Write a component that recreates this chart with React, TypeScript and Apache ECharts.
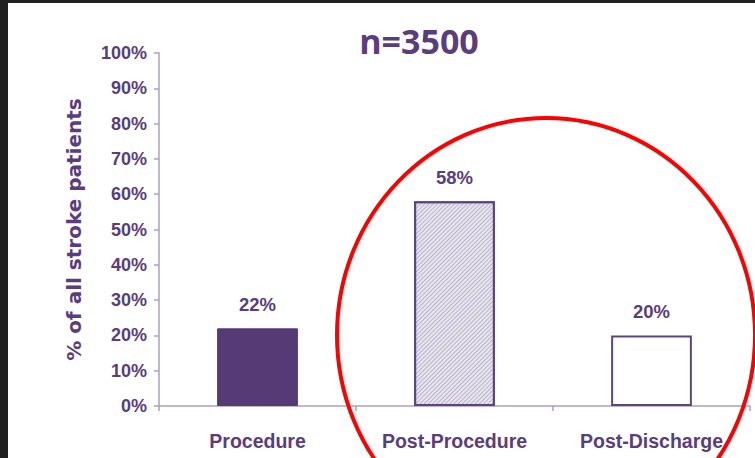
import React, { useEffect, useRef } from "react";
import * as echarts from "echarts";

const categories = ["Procedure", "Post-Procedure", "Post-Discharge"];
const values = [22, 58, 20];
const yTicks = [0, 10, 20, 30, 40, 50, 60, 70, 80, 90, 100];
const titleText = "n=3500";
const yAxisName = "% of all stroke patients";

const PURPLE = "#5a3d7e";
const AXIS = "#ab9fc6";
const SANS = '"Liberation Sans", Arial, sans-serif';

export default function App() {
  const ref = useRef<HTMLDivElement>(null);
  useEffect(() => {
    if (!ref.current) return;
    const chart = echarts.init(ref.current, null, { renderer: "svg" });
    const itemStyles = [
      { color: "#563a75", borderColor: "#563a75", borderWidth: 1 },
      {
        color: "#e8e6ee",
        borderColor: "#5a4782",
        borderWidth: 2,
        decal: {
          symbol: "rect",
          symbolSize: 1,
          color: "rgba(140,128,165,0.5)",
          dashArrayX: [[1, 0]],
          dashArrayY: [1, 2],
          rotation: -Math.PI / 4,
        },
      },
      { color: "#ffffff", borderColor: "#5a4782", borderWidth: 2 },
    ];
    chart.setOption({
      animation: false,
      backgroundColor: "#ffffff",
      title: {
        text: titleText,
        left: 414,
        textAlign: "center",
        top: 19,
        textStyle: {
          fontFamily: '"Open Sans", sans-serif',
          fontWeight: "bold",
          fontSize: 34,
          color: PURPLE,
        },
      },
      grid: { left: 159, right: 5, top: 53, bottom: 52 },
      xAxis: {
        type: "category",
        data: categories,
        axisLine: { lineStyle: { color: AXIS, width: 1.5 } },
        axisTick: { show: true, length: 5, lineStyle: { color: AXIS, width: 1.5 } },
        axisLabel: {
          interval: 0,
          margin: 25,
          color: PURPLE,
          fontFamily: SANS,
          fontWeight: "bold",
          fontSize: 19.5,
        },
      },
      yAxis: {
        type: "value",
        min: 0,
        max: 100,
        interval: 10,
        name: yAxisName,
        nameLocation: "middle",
        nameGap: 75,
        nameTextStyle: {
          color: PURPLE,
          fontFamily: '"DejaVu Sans", sans-serif',
          fontWeight: "bold",
          fontSize: 20,
        },
        axisLine: { show: true, lineStyle: { color: AXIS, width: 1.5 } },
        axisTick: { show: true, length: 5, lineStyle: { color: AXIS, width: 1.5 } },
        splitLine: { show: false },
        axisLabel: {
          margin: 12,
          color: PURPLE,
          fontFamily: SANS,
          fontWeight: "bold",
          fontSize: 18,
          formatter: (v: number) => (yTicks.includes(v) ? v + "%" : ""),
        },
      },
      series: [
        {
          type: "bar",
          barWidth: "41%",
          data: values.map((v, i) => ({ value: v, itemStyle: itemStyles[i] })),
          label: {
            show: true,
            position: "top",
            distance: 14,
            formatter: "{c}%",
            color: PURPLE,
            fontFamily: SANS,
            fontWeight: "bold",
            fontSize: 18.5,
          },
        },
      ],
      graphic: [
        {
          type: "ellipse",
          shape: { cx: 546, cy: 335, rx: 209, ry: 217 },
          style: { fill: "none", stroke: "#ff0000", lineWidth: 4 },
          z: 100,
        },
        {
          type: "rect",
          shape: { x: 0, y: 0, width: 755, height: 3 },
          style: { fill: "#1f201f" },
          z: 110,
        },
        {
          type: "rect",
          shape: { x: 0, y: 0, width: 8, height: 458 },
          style: { fill: "#1f201f" },
          z: 110,
        },
      ],
    });
    return () => chart.dispose();
  }, []);
  return (
    <div
      ref={ref}
      style={{ position: "fixed", left: 0, top: 0, width: 755, height: 458 }}
    />
  );
}
